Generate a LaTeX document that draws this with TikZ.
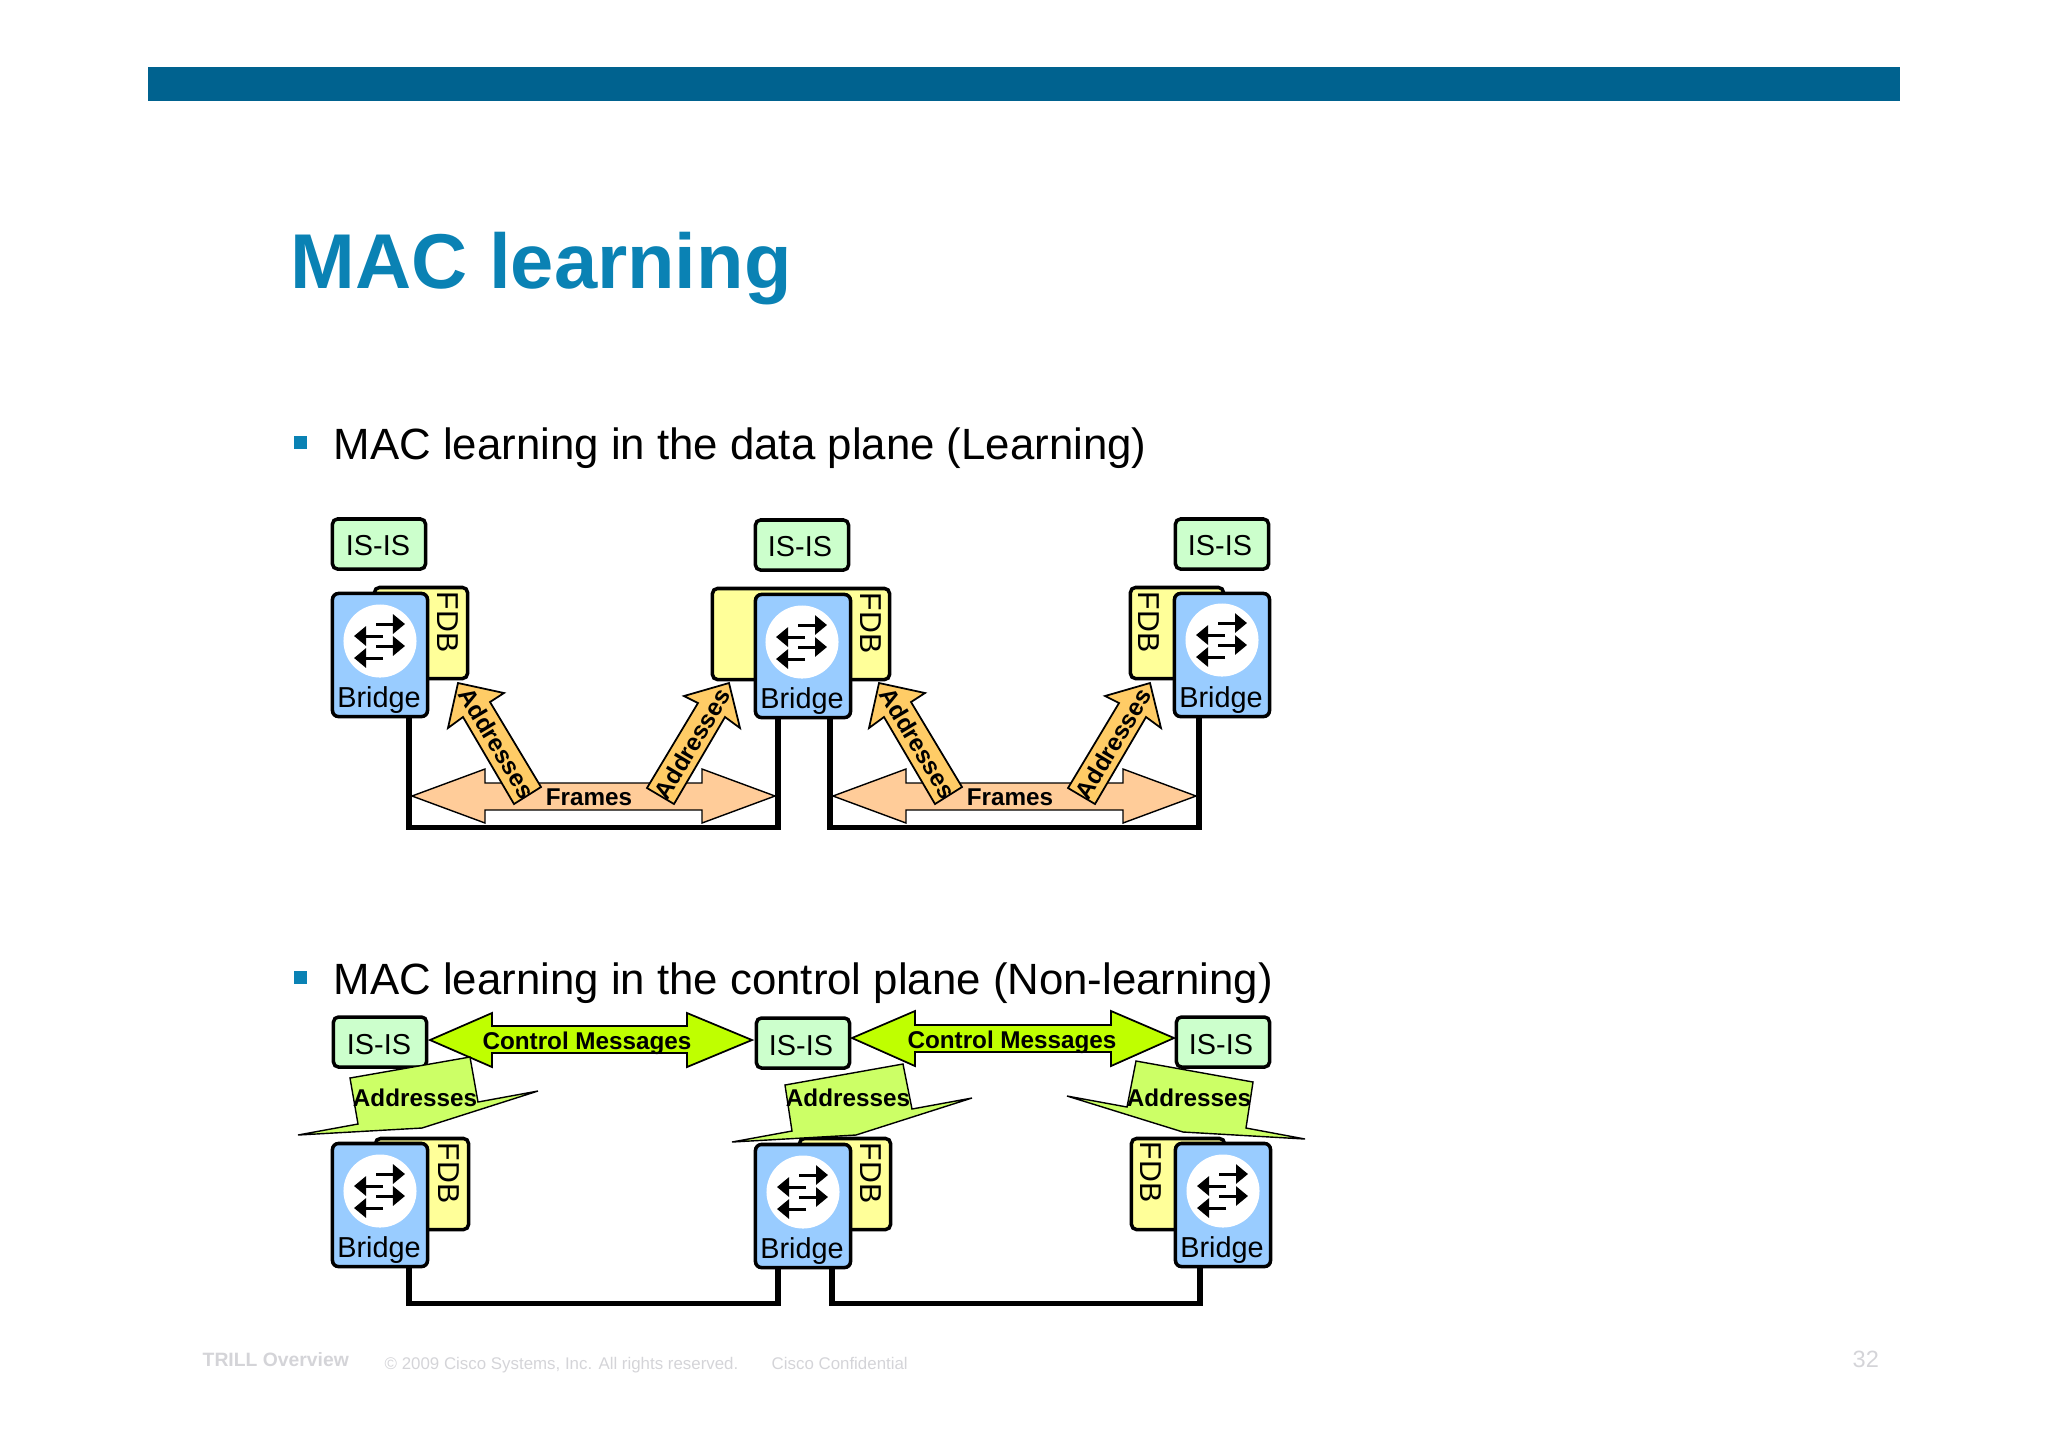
\documentclass[tikz,border=0pt]{standalone}
\usepackage{fontspec}
\setmainfont{Liberation Sans}
\usetikzlibrary{arrows.meta}
\definecolor{barblue}{HTML}{00628F}
\definecolor{titleblue}{HTML}{0A82B4}
\definecolor{footgrey}{HTML}{D4D4D8}
\definecolor{isisgreen}{HTML}{CCFFCC}
\definecolor{fdbyellow}{HTML}{FFFF99}
\definecolor{bridgeblue}{HTML}{99CCFF}
\definecolor{framespeach}{HTML}{FFCC99}
\definecolor{addrorange}{HTML}{FFCC66}
\definecolor{ctrllime}{HTML}{BFFF00}
\definecolor{calloutlime}{HTML}{CCFF66}
\tikzset{
	isisbox/.style={draw,line width=1pt,rounded corners=0.5mm,fill=isisgreen,minimum width=9.3mm,minimum height=5mm,inner sep=0pt},
	fdbbox/.style={draw,line width=1pt,rounded corners=0.5mm,fill=fdbyellow,minimum height=9.1mm,inner sep=0pt},
	bridgebox/.style={draw,line width=1pt,rounded corners=0.6mm,fill=bridgeblue,minimum width=9.5mm,minimum height=12.3mm,inner sep=0pt},
	plainlabel/.style={inner sep=0pt,font=\fontsize{8.2}{10}\selectfont},
	fdblabel/.style={inner sep=0pt,rotate=-90,font=\fontsize{8.6}{10}\selectfont},
	boldlabel/.style={inner sep=0pt,font=\fontsize{6.9}{9}\selectfont\bfseries},
	hubdisc/.style={circle,fill=white,minimum size=7.3mm,inner sep=0pt},
	hubarrow/.style={line width=0.85pt,-{Triangle[length=1.2mm,width=1.9mm]}},
	busline/.style={line width=1.5pt,line join=miter},
	framesarrow/.style={draw,line width=0.4pt,fill=framespeach},
	addrarrow/.style={draw,line width=0.5pt,fill=addrorange},
	ctrlarrow/.style={draw,line width=0.5pt,fill=ctrllime},
	addrcallout/.style={draw,line width=0.4pt,fill=calloutlime},
	footlabel/.style={anchor=base west,inner sep=0pt,text=footgrey,font=\fontsize{4.8}{6}\selectfont}
}
\begin{document}
\begin{tikzpicture}[x=0.01cm,y=-0.01cm]
	\useasboundingbox (0,0) rectangle (2048,1447);
	\fill[barblue] (148,67) rectangle (1900,101);
	\node[anchor=base west,inner sep=0pt,text=titleblue,font=\fontsize{22.1}{26}\selectfont\bfseries] (title) at (290,288) {MAC learning};
	% bullets
	\fill[titleblue] (294,436) rectangle (307,449);
	\fill[titleblue] (294,971) rectangle (307,984);
	\node[anchor=base west,inner sep=0pt,font=\fontsize{12.45}{15}\selectfont] (headdata) at (333,459) {MAC learning in the data plane (Learning)};
	\node[anchor=base west,inner sep=0pt,font=\fontsize{12.45}{15}\selectfont] (headctrl) at (333,994) {MAC learning in the control plane (Non-learning)};
	% data plane
	\node[isisbox] (isisA) at (379,544) {};
	\node[isisbox] (isisB) at (802,545) {};
	\node[isisbox] (isisC) at (1222,544) {};
	\node[plainlabel] (isistextA) at (378,546) {IS-IS};
	\node[plainlabel] (isistextB) at (800,547) {IS-IS};
	\node[plainlabel] (isistextC) at (1220,546) {IS-IS};
	\node[fdbbox,minimum width=9.3mm] (fdbA) at (421,633) {};
	\node[fdbbox,minimum width=17.7mm] (fdbB) at (801,634) {};
	\node[fdbbox,minimum width=9.3mm] (fdbC) at (1177,633) {};
	\node[bridgebox] (bridgeA) at (380,655) {};
	\node[bridgebox] (bridgeB) at (803,656) {};
	\node[bridgebox] (bridgeC) at (1222,655) {};
	\node[fdblabel] (fdbtextA) at (448,622) {FDB};
	\node[fdblabel] (fdbtextB) at (871,623) {FDB};
	\node[fdblabel] (fdbtextC) at (1149,622) {FDB};
	\node[plainlabel] (bridgetextA) at (379,700) {Bridge};
	\node[plainlabel] (bridgetextB) at (802,701) {Bridge};
	\node[plainlabel] (bridgetextC) at (1221,700) {Bridge};
	\draw[busline] ([xshift=2.9mm]bridgeA.south) -- ++(0,109) -| ([xshift=-2.5mm]bridgeB.south);
	\draw[busline] ([xshift=2.7mm]bridgeB.south) -- ++(0,108) -| ([xshift=-2.3mm]bridgeC.south);
	\draw[framesarrow] (412,796) -- (485,769) -- (485,783) -- (702,783) -- (702,769) -- (775,796) -- (702,823) -- (702,810) -- (485,810) -- (485,823) -- cycle;
	\draw[framesarrow] (833,796) -- (906,769) -- (906,783) -- (1123,783) -- (1123,769) -- (1196,796) -- (1123,823) -- (1123,810) -- (906,810) -- (906,823) -- cycle;
	\node[boldlabel] (framesA) at (589,797) {Frames};
	\node[boldlabel] (framesB) at (1010,797) {Frames};
	\draw[addrarrow] (458,683) -- (504,693) -- (490,702) -- (541,787) -- (514,804) -- (463,717) -- (448,728) -- cycle;
	\draw[addrarrow] (729,683) -- (684,696) -- (698,703) -- (647,788) -- (674,804) -- (725,717) -- (740,728) -- cycle;
	\draw[addrarrow] (879,683) -- (925,693) -- (911,702) -- (962,787) -- (935,804) -- (884,717) -- (869,728) -- cycle;
	\draw[addrarrow] (1150,683) -- (1105,696) -- (1119,703) -- (1068,788) -- (1095,804) -- (1146,717) -- (1161,728) -- cycle;
	\node[boldlabel,rotate=-59] (addrA) at (497,743) {Addresses};
	\node[boldlabel,rotate=59] (addrB) at (692,744) {Addresses};
	\node[boldlabel,rotate=-59] (addrC) at (918,743) {Addresses};
	\node[boldlabel,rotate=59] (addrD) at (1113,744) {Addresses};
	% control plane
	\node[isisbox] (isisD) at (380,1042) {};
	\node[isisbox] (isisE) at (803,1043) {};
	\node[isisbox] (isisF) at (1223,1042) {};
	\node[plainlabel] (isistextD) at (379,1045) {IS-IS};
	\node[plainlabel] (isistextE) at (801,1046) {IS-IS};
	\node[plainlabel] (isistextF) at (1221,1045) {IS-IS};
	\node[fdbbox,minimum width=9.3mm] (fdbD) at (422,1184) {};
	\node[fdbbox,minimum width=9.1mm] (fdbE) at (845,1184) {};
	\node[fdbbox,minimum width=9.3mm] (fdbF) at (1178,1184) {};
	\node[bridgebox] (bridgeD) at (380,1205) {};
	\node[bridgebox] (bridgeE) at (803,1206) {};
	\node[bridgebox] (bridgeF) at (1223,1205) {};
	\node[fdblabel] (fdbtextD) at (449,1173) {FDB};
	\node[fdblabel] (fdbtextE) at (871,1173) {FDB};
	\node[fdblabel] (fdbtextF) at (1151,1172) {FDB};
	\node[plainlabel] (bridgetextD) at (379,1250) {Bridge};
	\node[plainlabel] (bridgetextE) at (802,1251) {Bridge};
	\node[plainlabel] (bridgetextF) at (1222,1250) {Bridge};
	\draw[busline] ([xshift=2.9mm]bridgeD.south) -- ++(0,35) -| ([xshift=-2.5mm]bridgeE.south);
	\draw[busline] ([xshift=2.9mm]bridgeE.south) -- ++(0,34) -| ([xshift=-2.3mm]bridgeF.south);
	\draw[ctrlarrow] (430,1040) -- (492,1013) -- (492,1026) -- (687,1026) -- (687,1013) -- (752,1040) -- (687,1067) -- (687,1053) -- (492,1053) -- (492,1067) -- cycle;
	\draw[ctrlarrow] (852,1038) -- (915,1011) -- (915,1025) -- (1111,1025) -- (1111,1011) -- (1174,1038) -- (1111,1066) -- (1111,1052) -- (915,1052) -- (915,1066) -- cycle;
	\node[boldlabel] (ctrlA) at (587,1043) {Control Messages};
	\node[boldlabel] (ctrlB) at (1012,1042) {Control Messages};
	\draw[addrcallout] (470,1057) -- (350,1078) -- (358,1124) -- (298,1135) -- (422,1128) -- (538,1091) -- (478,1102) -- cycle;
	\draw[addrcallout] (903,1064) -- (785,1085) -- (792,1131) -- (732,1142) -- (856,1135) -- (972,1098) -- (912,1109) -- cycle;
	\draw[addrcallout] (1136,1061) -- (1253,1082) -- (1246,1128) -- (1305,1139) -- (1183,1132) -- (1067,1096) -- (1127,1107) -- cycle;
	\node[boldlabel] (calloutA) at (415,1098) {Addresses};
	\node[boldlabel] (calloutB) at (848,1098) {Addresses};
	\node[boldlabel] (calloutC) at (1189,1098) {Addresses};
	% switch glyphs
	\foreach \n/\x/\y in {A/380/641,B/802/642,C/1222/640,D/380/1191,E/803/1192,F/1223/1191} {
		\node[hubdisc] (hub\n) at (\x,\y) {};
		\draw[hubarrow] (\x-4,\y-17) -- (\x+25,\y-17);
		\draw[hubarrow] (\x+3,\y-5) -- (\x-26,\y-5);
		\draw[hubarrow] (\x-4,\y+5) -- (\x+25,\y+5);
		\draw[hubarrow] (\x+3,\y+17) -- (\x-26,\y+17);
	}
	% footer
	\node[footlabel,font=\fontsize{5.5}{7}\selectfont\bfseries] (foottrill) at (202,1366) {TRILL Overview};
	\node[footlabel] (footcopy) at (384,1369) {© 2009 Cisco Systems, Inc. All rights reserved.};
	\node[footlabel] (footconf) at (771,1369) {Cisco Confidential};
	\node[footlabel,font=\fontsize{6.7}{8}\selectfont] (footpage) at (1852,1367) {32};
\end{tikzpicture}
\end{document}
